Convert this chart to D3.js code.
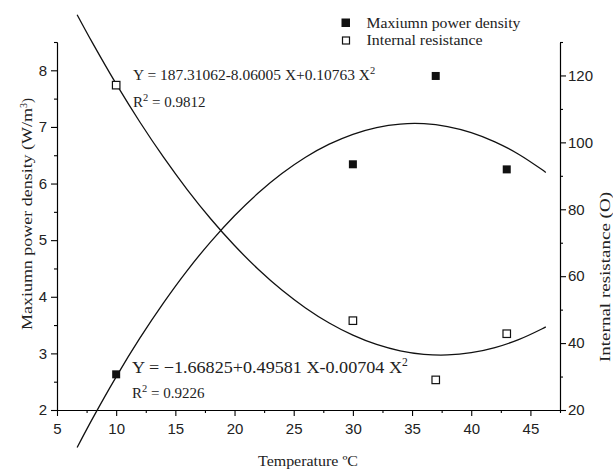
<!DOCTYPE html>
<html><head><meta charset="utf-8">
<script src="https://cdn.jsdelivr.net/npm/d3@7"></script>
<style>body{margin:0;background:#fff}svg{display:block}</style>
</head><body><svg id="c" width="613" height="469"></svg>
<script>
// Measured data
const temps = [10, 30, 37, 43];
const powerDensity = [2.63, 6.34, 7.90, 6.25];
const internalResistance = [117.1, 46.7, 29.0, 42.8];
// Fitted curves
const fitX = [6.7, 8, 10, 12, 14, 16, 18, 20, 22, 24, 26, 28, 30, 32, 34, 36, 38, 40, 42, 44, 46, 46.3];
const fitPower = [1.338, 1.848, 2.586, 3.268, 3.893, 4.463, 4.975, 5.432, 5.832, 6.176, 6.464, 6.695, 6.870, 6.989, 7.051, 7.057, 7.007, 6.900, 6.737, 6.518, 6.242, 6.196];
const fitResist = [138.14, 129.72, 117.47, 106.09, 95.57, 85.90, 77.10, 69.16, 62.08, 55.86, 50.51, 46.01, 42.38, 39.60, 37.69, 36.64, 36.45, 37.12, 38.65, 41.04, 44.29, 44.86];
const xMajor = [5, 10, 15, 20, 25, 30, 35, 40, 45];
const xMinor = [7.5, 12.5, 17.5, 22.5, 27.5, 32.5, 37.5, 42.5, 47.5];
const yLMajor = [2, 3, 4, 5, 6, 7, 8];
const yLMinor = [2.5, 3.5, 4.5, 5.5, 6.5, 7.5, 8.5];
const yRMajor = [20, 40, 60, 80, 100, 120];
const yRMinor = [30, 50, 70, 90, 110, 130];
const legendLabels = ["Maxiumn power density", "Internal resistance"];

const svg = d3.select("#c");
const x = d3.scaleLinear().domain([5, 47.5]).range([57, 560]);
const yL = d3.scaleLinear().domain([2, 8.5]).range([410, 42]);
const yR = d3.scaleLinear().domain([20, 130]).range([410, 42]);

const tickFont = "'Liberation Sans', Arial, sans-serif";
const serif = "'Liberation Serif', 'Times New Roman', serif";
const ADJ = "spacingAndGlyphs";

function styleAxis(g) {
  g.selectAll("path.domain").attr("stroke", "#000").attr("stroke-width", 1.1);
  g.selectAll(".tick line").attr("stroke", "#000").attr("stroke-width", 1.1);
  g.selectAll("text").attr("font-family", tickFont).attr("font-size", 15).attr("fill", "#222");
}

// x axis
svg.append("g").attr("transform", "translate(0,410)")
  .call(d3.axisBottom(x).tickValues(xMajor).tickSize(6).tickSizeOuter(0).tickPadding(7).tickFormat(d3.format("d")))
  .call(styleAxis);
svg.append("g").attr("transform", "translate(0,410)")
  .call(d3.axisBottom(x).tickValues(xMinor).tickSize(3).tickSizeOuter(0).tickFormat(""))
  .call(styleAxis);
// left axis
svg.append("g").attr("transform", "translate(57,0)")
  .call(d3.axisLeft(yL).tickValues(yLMajor).tickSize(6).tickSizeOuter(0).tickPadding(4).tickFormat(d3.format("d")))
  .call(styleAxis);
svg.append("g").attr("transform", "translate(57,0)")
  .call(d3.axisLeft(yL).tickValues(yLMinor).tickSize(3).tickSizeOuter(0).tickFormat(""))
  .call(styleAxis);
// right axis
svg.append("g").attr("transform", "translate(560,0)")
  .call(d3.axisRight(yR).tickValues(yRMajor).tickSize(6).tickSizeOuter(0).tickPadding(2).tickFormat(d3.format("d")))
  .call(styleAxis);
svg.append("g").attr("transform", "translate(560,0)")
  .call(d3.axisRight(yR).tickValues(yRMinor).tickSize(3).tickSizeOuter(0).tickFormat(""))
  .call(styleAxis);

// fit curves
const lineP = d3.line().x((d, i) => x(fitX[i])).y(d => yL(d)).curve(d3.curveCatmullRom);
const lineR = d3.line().x((d, i) => x(fitX[i])).y(d => yR(d)).curve(d3.curveCatmullRom);
svg.append("path").attr("d", lineP(fitPower)).attr("fill", "none").attr("stroke", "#111").attr("stroke-width", 1.3);
svg.append("path").attr("d", lineR(fitResist)).attr("fill", "none").attr("stroke", "#111").attr("stroke-width", 1.3);

// points
const s = 8, so = 7.5;
svg.selectAll(".pd").data(temps).join("rect")
  .attr("x", (d) => x(d) - s / 2).attr("y", (d, i) => yL(powerDensity[i]) - s / 2)
  .attr("width", s).attr("height", s).attr("fill", "#111");
svg.selectAll(".ir").data(temps).join("rect")
  .attr("x", (d) => x(d) - so / 2).attr("y", (d, i) => yR(internalResistance[i]) - so / 2)
  .attr("width", so).attr("height", so).attr("fill", "#fff").attr("stroke", "#111").attr("stroke-width", 1.2);

// legend
const lg = svg.append("g");
lg.append("rect").attr("x", 341.5).attr("y", 18.5).attr("width", 8.5).attr("height", 8.5).attr("fill", "#111");
lg.append("rect").attr("x", 342.5).attr("y", 37).attr("width", 7).attr("height", 7).attr("fill", "#fff").attr("stroke", "#111").attr("stroke-width", 1.2);
const legLen = [154, 116];
lg.selectAll("text").data(legendLabels).join("text")
  .attr("x", 366.5).attr("y", (d, i) => 27.5 + i * 17.8)
  .attr("textLength", (d, i) => legLen[i]).attr("lengthAdjust", ADJ)
  .attr("font-family", serif).attr("font-size", 15).attr("fill", "#222").text(d => d);

// equations
function eq(xp, yp, size, main, mainLen, sup, tail) {
  const t = svg.append("text").attr("x", xp).attr("y", yp).attr("font-family", serif).attr("font-size", size).attr("fill", "#222");
  const m = t.append("tspan").text(main);
  if (mainLen) m.attr("textLength", mainLen).attr("lengthAdjust", ADJ);
  t.append("tspan").attr("font-size", size * 0.7).attr("dy", -size * 0.38).text(sup);
  if (tail) t.append("tspan").attr("dy", size * 0.38).text(tail);
}
eq(133, 80, 15, "Y = 187.31062-8.06005 X+0.10763 X", 237, "2", null);
eq(133, 106.5, 15, "R", null, "2", " = 0.9812");
eq(132, 372.5, 16.5, "Y = \u22121.66825+0.49581 X-0.00704 X", 270, "2", null);
eq(132, 398, 15, "R", null, "2", " = 0.9226");

// axis titles
svg.append("text").attr("x", 258).attr("y", 466)
  .attr("textLength", 100).attr("lengthAdjust", ADJ)
  .attr("font-family", serif).attr("font-size", 15).attr("fill", "#222").text("Temperature \u00BAC");
const lt = svg.append("text").attr("transform", "translate(32,330) rotate(-90)")
  .attr("font-family", serif).attr("font-size", 15).attr("fill", "#222");
lt.append("tspan").attr("textLength", 222).attr("lengthAdjust", ADJ).text("Maxiumn power density (W/m");
lt.append("tspan").attr("font-size", 10).attr("dy", -5).text("3");
lt.append("tspan").attr("dy", 5).text(")");
svg.append("text").attr("transform", "translate(610,362) rotate(-90)")
  .attr("textLength", 170).attr("lengthAdjust", ADJ)
  .attr("font-family", serif).attr("font-size", 15).attr("fill", "#222").text("Internal resistance (O)");
</script></body></html>
